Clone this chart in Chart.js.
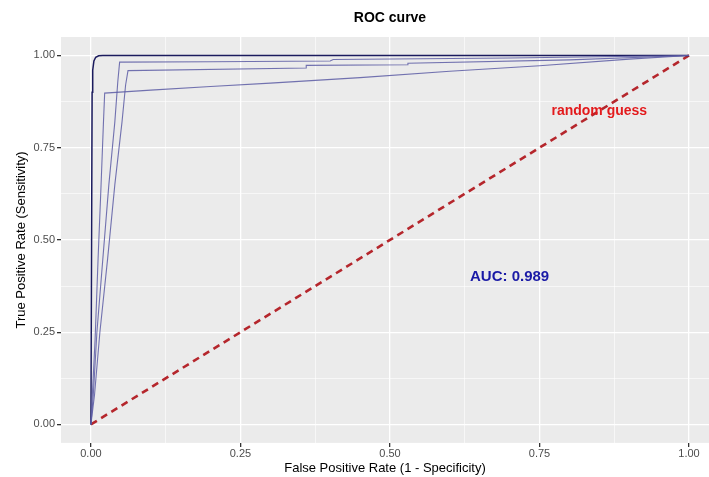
<!DOCTYPE html>
<html>
<head>
<meta charset="utf-8">
<script src="https://cdn.jsdelivr.net/npm/chart.js@4.4.1/dist/chart.umd.min.js"></script>
<style>
  body { margin: 0; background: #fff; }
  #wrap { width: 709px; height: 477px; }
</style>
</head>
<body>
<div id="wrap"><canvas id="roc" width="709" height="477"></canvas></div>
<script>
// ROC curves (false positive rate / true positive rate)
const fprA = [0, 0.002, 0.003, 0.005, 0.008, 0.013, 0.02, 1];
const tprA = [0, 0.90, 0.96, 0.985, 0.995, 0.999, 1.0, 1];

const fprB = [0, 0.004, 0.010, 0.020, 0.030, 0.040, 0.045, 0.048, 0.20, 0.40, 0.405, 0.70, 1];
const tprB = [0, 0.08, 0.25, 0.45, 0.65, 0.82, 0.93, 0.982, 0.983, 0.985, 0.989, 0.993, 1];

const fprC = [0, 0.006, 0.015, 0.028, 0.040, 0.052, 0.058, 0.062, 0.36, 0.36, 0.53, 0.53, 0.80, 1];
const tprC = [0, 0.08, 0.25, 0.45, 0.65, 0.82, 0.92, 0.959, 0.966, 0.973, 0.975, 0.979, 0.988, 1];

const fprD = [0, 0.003, 0.007, 0.012, 0.017, 0.021, 0.023, 0.10, 0.20, 0.30, 0.45, 0.60, 0.75, 0.90, 1];
const tprD = [0, 0.10, 0.23, 0.45, 0.65, 0.82, 0.898, 0.906, 0.916, 0.925, 0.940, 0.957, 0.972, 0.990, 1];

const guessX = [0, 1];
const guessY = [0, 1];

const axisTicks = [0, 0.125, 0.25, 0.375, 0.5, 0.625, 0.75, 0.875, 1];
const majorTicks = [0, 0.25, 0.5, 0.75, 1];

const noteText = ['random guess', 'AUC: 0.989'];
const noteX = [0.85, 0.70];
const noteY = [0.85, 0.40];

const FONT = '"Liberation Sans", Arial, sans-serif';
const toPoints = (xs, ys) => xs.map((x, i) => ({ x: x, y: ys[i] }));
const isMajor = v => majorTicks.some(m => Math.abs(m - v) < 1e-9);

const panelBg = {
  id: 'panelBg',
  beforeDraw(chart) {
    const { ctx, chartArea: a } = chart;
    ctx.save();
    ctx.fillStyle = '#ebebeb';
    ctx.fillRect(a.left, a.top, a.right - a.left, a.bottom - a.top);
    ctx.restore();
  }
};

const notes = {
  id: 'notes',
  afterDatasetsDraw(chart) {
    const { ctx, scales } = chart;
    const colors = ['#e31a1c', '#1a1aa6'];
    const sizes = [14, 15];
    ctx.save();
    ctx.textAlign = 'center';
    ctx.textBaseline = 'middle';
    noteText.forEach((t, i) => {
      ctx.font = 'bold ' + sizes[i] + 'px ' + FONT;
      ctx.fillStyle = colors[i];
      ctx.fillText(t, scales.x.getPixelForValue(noteX[i]), scales.y.getPixelForValue(noteY[i]));
    });
    // plot title, centred over the panel
    ctx.font = 'bold 14px ' + FONT;
    ctx.fillStyle = '#000';
    ctx.fillText('ROC curve', scales.x.getPixelForValue(0.5), 18);
    ctx.restore();
  }
};

const rocLine = (label, xs, ys, color, width) => ({
  label: label,
  data: toPoints(xs, ys),
  showLine: true,
  borderColor: color,
  borderWidth: width,
  pointRadius: 0,
  tension: 0,
  fill: false
});

const gridOpts = {
  color: '#ffffff',
  lineWidth: c => (c.tick && isMajor(c.tick.value) ? 1.3 : 0.6),
  tickColor: c => (c.tick && isMajor(c.tick.value) ? '#333333' : 'rgba(0,0,0,0)'),
  tickLength: 4
};

new Chart(document.getElementById('roc'), {
  type: 'scatter',
  data: {
    datasets: [
      rocLine('model 4', fprD, tprD, 'rgba(92,92,165,0.85)', 1.1),
      rocLine('model 3', fprC, tprC, 'rgba(92,92,165,0.85)', 1.1),
      rocLine('model 2', fprB, tprB, 'rgba(92,92,165,0.85)', 1.1),
      rocLine('model 1', fprA, tprA, '#1b1b5e', 1.5),
      Object.assign(rocLine('random guess', guessX, guessY, '#b5262c', 2.6), { borderDash: [7, 5] })
    ]
  },
  options: {
    responsive: false,
    animation: false,
    layout: { padding: { top: 37, left: 6, right: 0, bottom: 0 } },
    plugins: {
      legend: { display: false },
      tooltip: { enabled: false },
      title: { display: false }
    },
    scales: {
      x: {
        type: 'linear',
        min: -0.05,
        max: 1.0334,
        afterBuildTicks: s => { s.ticks = axisTicks.map(v => ({ value: v })); },
        ticks: {
          autoSkip: false,
          maxRotation: 0,
          padding: 1,
          color: '#4d4d4d',
          font: { family: FONT, size: 11, lineHeight: 1.1 },
          callback: v => (isMajor(v) ? v.toFixed(2) : '')
        },
        grid: gridOpts,
        border: { display: false },
        title: {
          display: true,
          text: 'False Positive Rate (1 - Specificity)',
          color: '#000',
          font: { family: FONT, size: 13, lineHeight: 1.0 },
          padding: { top: 1, bottom: 2 }
        }
      },
      y: {
        type: 'linear',
        min: -0.05,
        max: 1.05,
        afterBuildTicks: s => { s.ticks = axisTicks.map(v => ({ value: v })); },
        ticks: {
          autoSkip: false,
          padding: 2,
          color: '#4d4d4d',
          font: { family: FONT, size: 11 },
          callback: v => (isMajor(v) ? v.toFixed(2) : '')
        },
        grid: gridOpts,
        border: { display: false },
        title: {
          display: true,
          text: 'True Positive Rate (Sensitivity)',
          color: '#000',
          font: { family: FONT, size: 13 },
          padding: { top: 8, bottom: 2 }
        }
      }
    }
  },
  plugins: [panelBg, notes]
});
</script>
</body>
</html>
